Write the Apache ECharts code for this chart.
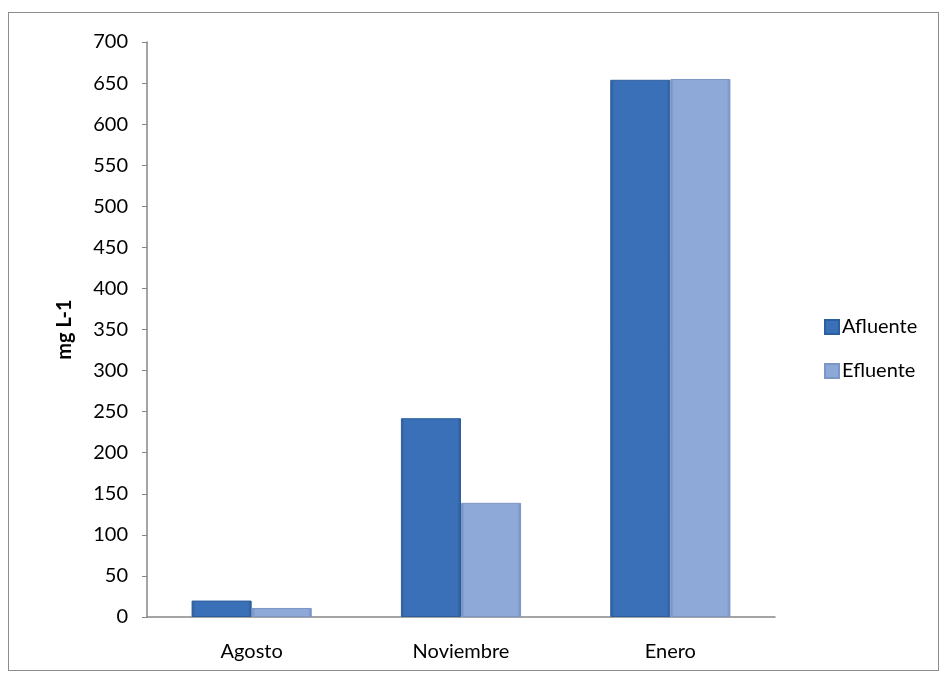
<!DOCTYPE html>
<html><head><meta charset="utf-8">
<script src="https://cdn.jsdelivr.net/npm/echarts@6/dist/echarts.min.js"></script>
<style>html,body{margin:0;padding:0;background:#fff}#c{width:947px;height:679px}
#frame{position:absolute;left:8px;top:12px;width:931px;height:659px;border:1px solid #8c8c8c;box-sizing:border-box;pointer-events:none}</style>
</head><body><div id="c"></div><div id="frame"></div>
<script>
const categories = ['Agosto', 'Noviembre', 'Enero'];
const afluente = [20, 242, 654];
const efluente = [11, 139, 655];
const seriesNames = ['Afluente', 'Efluente'];
const yTicks = {min: 0, max: 700, interval: 50};

function bevel(mid, edge) {
  return new echarts.graphic.LinearGradient(0, 0, 1, 0, [
    {offset: 0, color: edge}, {offset: 0.06, color: mid},
    {offset: 0.94, color: mid}, {offset: 1, color: edge}
  ]);
}
const chart = echarts.init(document.getElementById('c'));
const font = 'Lato, "Open Sans", sans-serif';
chart.setOption({
  animation: false,
  textStyle: {fontFamily: font},
  grid: {left: 147, right: 172, top: 42, bottom: 62},
  legend: {
    orient: 'vertical', left: 819, top: 312, itemWidth: 14, itemHeight: 14, itemGap: 24,
    icon: 'rect',
    textStyle: {fontSize: 20, color: '#000', fontFamily: font, padding: [0, 0, 0, -2]},
    data: seriesNames
  },
  xAxis: {
    type: 'category', data: categories,
    axisLine: {lineStyle: {color: '#868686', width: 1.5}},
    axisTick: {show: false},
    axisLabel: {fontSize: 20, color: '#000', margin: 25, fontFamily: font}
  },
  yAxis: {
    type: 'value', min: yTicks.min, max: yTicks.max, interval: yTicks.interval,
    name: 'mg L-1', nameLocation: 'middle', nameGap: 72, nameRotate: 90,
    nameTextStyle: {fontSize: 20, fontWeight: 'bold', color: '#000', fontFamily: font},
    axisLine: {show: true, lineStyle: {color: '#868686', width: 1.5}},
    axisTick: {show: true, length: 5, lineStyle: {color: '#868686'}},
    splitLine: {show: false},
    axisLabel: {fontSize: 20, color: '#000', margin: 19, fontFamily: font}
  },
  series: [
    {name: seriesNames[0], type: 'bar', data: afluente, barGap: '0%', barCategoryGap: '42.6%',
     itemStyle: {color: bevel('#3A70B7', '#2B5792'), borderColor: '#2F5E9E', borderWidth: 1}},
    {name: seriesNames[1], type: 'bar', data: efluente,
     itemStyle: {color: bevel('#8EA9D8', '#6F8BBE'), borderColor: '#7C96C6', borderWidth: 1}}
  ]
});
</script></body></html>
